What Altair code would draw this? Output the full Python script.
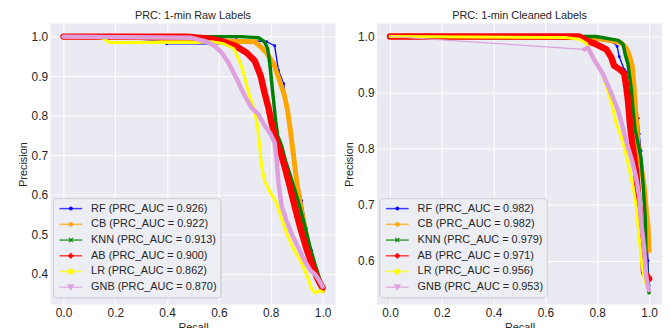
import altair as alt
import pandas as pd

models = ["RF", "CB", "KNN", "AB", "LR", "GNB"]
colors = ["#0000FF", "#FFA500", "#008000", "#FF0000", "#FFFF00", "#DDA0DD"]
auc_raw = [0.926, 0.922, 0.913, 0.900, 0.862, 0.870]
auc_clean = [0.982, 0.982, 0.979, 0.971, 0.956, 0.953]
x_ticks = [0.0, 0.2, 0.4, 0.6, 0.8, 1.0]
y_ticks_raw = [0.4, 0.5, 0.6, 0.7, 0.8, 0.9, 1.0]
y_ticks_clean = [0.6, 0.7, 0.8, 0.9, 1.0]

# ---- 1-min Raw Labels ----
raw_rf_recall = [0, 0.206, 0.379, 0.398, 0.649, 0.668, 0.784, 0.815, 0.830, 0.850, 0.869, 0.884, 0.900, 0.919, 0.938, 0.958, 0.969, 0.985, 1.0]
raw_rf_precision = [1.0, 0.997, 0.990, 0.982, 0.982, 0.992, 0.987, 0.977, 0.914, 0.881, 0.787, 0.711, 0.648, 0.585, 0.514, 0.458, 0.408, 0.375, 0.357]
raw_cb_recall = [0, 0.321, 0.514, 0.738, 0.757, 0.784, 0.811, 0.834, 0.853, 0.865, 0.876, 0.888, 0.900, 0.915, 0.934, 0.954, 0.973, 0.992, 1.0]
raw_cb_precision = [1.0, 0.997, 0.990, 0.987, 0.977, 0.959, 0.932, 0.889, 0.851, 0.813, 0.762, 0.699, 0.635, 0.572, 0.509, 0.446, 0.395, 0.370, 0.357]
raw_knn_recall = [0, 0.688, 0.753, 0.776, 0.788, 0.796, 0.803, 0.811, 0.819, 0.827, 0.842, 0.857, 0.876, 0.896, 0.911, 0.931, 0.950, 0.969, 0.985, 1.0]
raw_knn_precision = [1.0, 1.0, 0.997, 0.987, 0.970, 0.934, 0.889, 0.838, 0.787, 0.749, 0.724, 0.686, 0.648, 0.605, 0.572, 0.522, 0.471, 0.428, 0.395, 0.362]
raw_ab_recall = [0, 0.476, 0.564, 0.618, 0.668, 0.707, 0.738, 0.761, 0.776, 0.792, 0.803, 0.819, 0.838, 0.853, 0.873, 0.892, 0.915, 0.938, 0.961, 0.981, 1.0]
raw_ab_precision = [1.0, 1.0, 0.995, 0.987, 0.975, 0.959, 0.939, 0.901, 0.858, 0.818, 0.782, 0.742, 0.706, 0.673, 0.623, 0.572, 0.514, 0.463, 0.420, 0.387, 0.365]
raw_lr_recall = [0, 0.148, 0.178, 0.514, 0.572, 0.618, 0.657, 0.676, 0.695, 0.715, 0.734, 0.749, 0.757, 0.765, 0.776, 0.799, 0.822, 0.842, 0.865, 0.892, 0.919, 0.942, 0.958, 0.969, 0.992, 1.0]
raw_lr_precision = [1.0, 0.997, 0.985, 0.985, 0.987, 0.982, 0.970, 0.944, 0.909, 0.856, 0.820, 0.775, 0.724, 0.673, 0.635, 0.605, 0.580, 0.539, 0.496, 0.458, 0.428, 0.392, 0.362, 0.352, 0.357, 0.354]
raw_gnb_recall = [0, 0.495, 0.553, 0.583, 0.611, 0.637, 0.668, 0.699, 0.726, 0.753, 0.776, 0.799, 0.815, 0.823, 0.830, 0.842, 0.861, 0.884, 0.907, 0.930, 0.954, 0.973, 0.992, 1.0]
raw_gnb_precision = [1.0, 0.997, 0.987, 0.977, 0.959, 0.934, 0.894, 0.851, 0.820, 0.803, 0.775, 0.754, 0.732, 0.686, 0.630, 0.572, 0.534, 0.496, 0.466, 0.433, 0.408, 0.397, 0.377, 0.367]

# ---- 1-min Cleaned Labels ----
cln_rf_recall = [0, 0.758, 0.796, 0.865, 0.877, 0.885, 0.904, 0.923, 0.935, 0.946, 0.958, 0.962, 0.969, 0.977, 0.985, 0.992, 0.996, 1.0]
cln_rf_precision = [1.0, 1.0, 0.995, 0.989, 0.982, 0.964, 0.941, 0.934, 0.920, 0.884, 0.854, 0.826, 0.796, 0.751, 0.698, 0.644, 0.600, 0.556]
cln_cb_recall = [0, 0.777, 0.846, 0.892, 0.912, 0.923, 0.935, 0.942, 0.950, 0.958, 0.969, 0.981, 0.988, 0.996, 1.0]
cln_cb_precision = [1.0, 0.998, 0.993, 0.989, 0.979, 0.968, 0.947, 0.911, 0.858, 0.804, 0.769, 0.733, 0.698, 0.662, 0.618]
cln_knn_recall = [0, 0.796, 0.881, 0.900, 0.908, 0.919, 0.931, 0.938, 0.946, 0.958, 0.969, 0.977, 0.985, 0.988, 0.992, 1.0]
cln_knn_precision = [1.0, 1.0, 0.993, 0.986, 0.968, 0.950, 0.908, 0.870, 0.835, 0.808, 0.783, 0.737, 0.680, 0.618, 0.573, 0.543]
cln_ab_recall = [0, 0.731, 0.758, 0.796, 0.835, 0.854, 0.865, 0.888, 0.904, 0.912, 0.919, 0.927, 0.938, 0.950, 0.962, 0.969, 0.977, 0.981, 1.0]
cln_ab_precision = [1.0, 1.0, 0.993, 0.986, 0.977, 0.963, 0.948, 0.941, 0.934, 0.911, 0.884, 0.840, 0.801, 0.760, 0.694, 0.653, 0.612, 0.579, 0.568]
cln_lr_recall = [0, 0.681, 0.731, 0.758, 0.777, 0.796, 0.819, 0.838, 0.858, 0.873, 0.892, 0.908, 0.923, 0.938, 0.950, 0.958, 0.965, 0.973, 0.981, 0.992, 1.0]
cln_lr_precision = [1.0, 0.998, 0.995, 0.988, 0.970, 0.952, 0.934, 0.908, 0.876, 0.845, 0.822, 0.796, 0.765, 0.733, 0.698, 0.662, 0.627, 0.591, 0.570, 0.554, 0.547]
cln_gnb_recall = [0, 0.750, 0.765, 0.785, 0.804, 0.823, 0.838, 0.862, 0.881, 0.900, 0.915, 0.935, 0.950, 0.962, 0.969, 0.981, 0.988, 0.996, 1.0]
cln_gnb_precision = [1.0, 0.977, 0.980, 0.961, 0.947, 0.932, 0.916, 0.890, 0.867, 0.836, 0.808, 0.778, 0.748, 0.716, 0.671, 0.623, 0.577, 0.552, 0.548]

raw_curves = [(raw_rf_recall, raw_rf_precision), (raw_cb_recall, raw_cb_precision),
              (raw_knn_recall, raw_knn_precision), (raw_ab_recall, raw_ab_precision),
              (raw_lr_recall, raw_lr_precision), (raw_gnb_recall, raw_gnb_precision)]
cln_curves = [(cln_rf_recall, cln_rf_precision), (cln_cb_recall, cln_cb_precision),
              (cln_knn_recall, cln_knn_precision), (cln_ab_recall, cln_ab_precision),
              (cln_lr_recall, cln_lr_precision), (cln_gnb_recall, cln_gnb_precision)]

FONT = "Liberation Sans"
TXT = "#262626"
line_widths = {"RF": 1.3, "CB": 5, "KNN": 3.5, "AB": 6.5, "LR": 3, "GNB": 4.5}
color_scale = alt.Scale(domain=models, range=colors)
legend_shapes = ["circle", "circle", "M-1,-1L1,1M-1,1L1,-1", "diamond", "circle", "triangle-down"]
legend_sizes = [8, 30, 22, 40, 0, 25]


def panel(curves, aucs, title, ydom, yticks, thin_first=None):
    rows = []
    for m, (rec, prec) in zip(models, curves):
        for i, (r, p) in enumerate(zip(rec, prec)):
            rows.append({"model": m, "recall": r, "precision": p, "idx": i})
    df = pd.DataFrame(rows)

    xenc = alt.X("recall:Q", scale=alt.Scale(domain=[-0.05, 1.05], nice=False, zero=False),
                 axis=alt.Axis(values=x_ticks, format=".1f", title="Recall"))
    yenc = alt.Y("precision:Q", scale=alt.Scale(domain=ydom, nice=False, zero=False),
                 axis=alt.Axis(values=yticks, format=".1f", title="Precision"))

    layers = []
    for m, c in zip(models, colors):
        sub = df[df.model == m]
        if thin_first == m:
            layers.append(alt.Chart(sub).mark_line(color=c, strokeWidth=1.2).encode(
                x=xenc, y=yenc, order="idx:Q"))
            sub = sub[sub.idx > 0]
        layers.append(alt.Chart(sub).mark_line(color=c, strokeWidth=line_widths[m],
                                              strokeJoin="round", strokeCap="round").encode(
            x=xenc, y=yenc, order="idx:Q"))
        if m == "RF":
            layers.append(alt.Chart(sub).mark_circle(color=c, size=9, opacity=1).encode(
                x=xenc, y=yenc))

    leg = pd.DataFrame({
        "model": models,
        "label": [f"{m} (PRC_AUC = {a:.3f})" for m, a in zip(models, aucs)],
        "row": list(range(len(models))),
    })
    leg["ypix"] = 187 + leg["row"] * 15.9
    ly = alt.Y("ypix:Q", scale=None, axis=None)

    frame = alt.Chart(leg).mark_rect(fill="#EDEDF4", stroke="#d2d2da", strokeWidth=1,
                                     cornerRadius=3).encode(
        x=alt.value(3), x2=alt.value(172), y=alt.value(177), y2=alt.value(277))
    leg_line = alt.Chart(leg).mark_rule(strokeWidth=1.5, opacity=0.75).encode(
        x=alt.value(9), x2=alt.value(32), y=ly,
        color=alt.Color("model:N", scale=color_scale, legend=None))
    leg_pt = alt.Chart(leg).mark_point(filled=False, strokeWidth=1.2, opacity=0.9).encode(
        x=alt.value(20.5), y=ly,
        fill=alt.Fill("model:N", scale=color_scale, legend=None),
        stroke=alt.Stroke("model:N", scale=color_scale, legend=None),
        shape=alt.Shape("model:N", scale=alt.Scale(domain=models, range=legend_shapes), legend=None),
        size=alt.Size("model:N", scale=alt.Scale(domain=models, range=legend_sizes), legend=None))
    leg_txt = alt.Chart(leg).mark_text(align="left", baseline="middle", fontSize=11,
                                       font=FONT, color=TXT).encode(
        x=alt.value(41), y=ly, text="label:N")

    return alt.layer(*layers, frame, leg_line, leg_pt, leg_txt).properties(
        width=288, height=284,
        title=alt.TitleParams(title, fontSize=11, font=FONT, fontWeight="normal",
                              color=TXT, frame="group", offset=3))


left = panel(raw_curves, auc_raw, "PRC: 1-min Raw Labels", [0.322, 1.033], y_ticks_raw)
right = panel(cln_curves, auc_clean, "PRC: 1-min Cleaned Labels", [0.522, 1.023], y_ticks_clean,
              thin_first="GNB")

chart = alt.hconcat(left, right, spacing=8).properties(
    padding={"left": 9, "top": 0, "right": 0, "bottom": 0},
    background="white"
).configure_view(stroke=None, fill="#EAEAF2").configure_axis(
    grid=True, gridColor="white", gridWidth=1, domain=False, ticks=False,
    labelFont=FONT, labelFontSize=12, labelColor=TXT, labelPadding=3,
    titleFont=FONT, titleFontSize=11, titleFontWeight="normal", titleColor=TXT, titlePadding=3
)

chart.save("out.html", embed_options={"renderer": "svg", "actions": False})
